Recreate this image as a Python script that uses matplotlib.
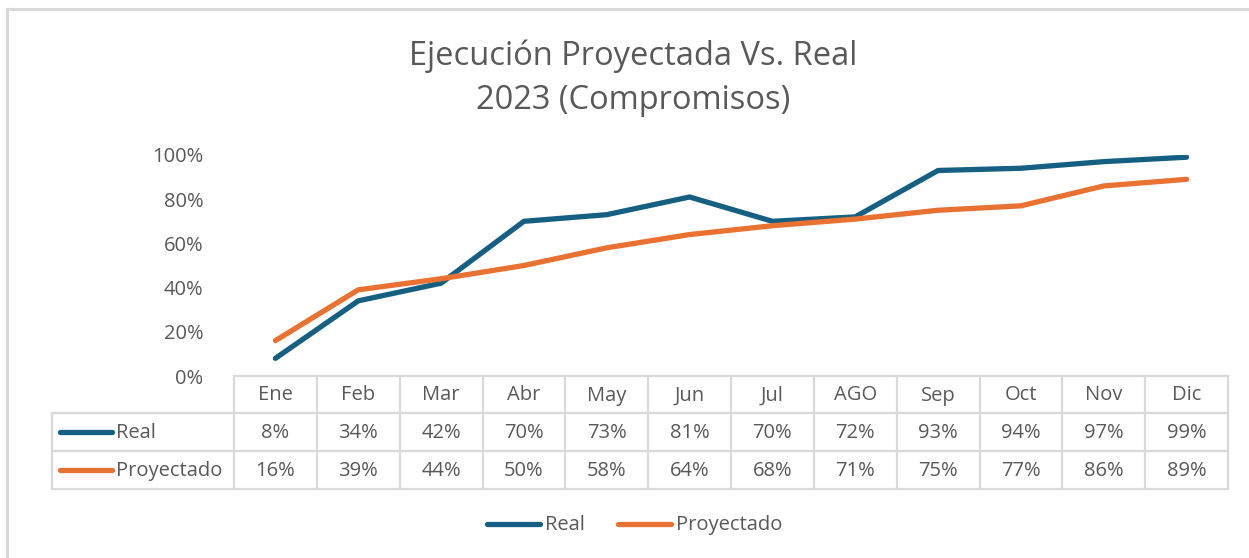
import matplotlib
matplotlib.use("Agg")
import matplotlib.pyplot as plt
from matplotlib.lines import Line2D

plt.rcParams['font.family'] = ['Open Sans', 'DejaVu Sans']

months = ["Ene", "Feb", "Mar", "Abr", "May", "Jun", "Jul", "AGO", "Sep", "Oct", "Nov", "Dic"]
real = [8, 34, 42, 70, 73, 81, 70, 72, 93, 94, 97, 99]
proyectado = [16, 39, 44, 50, 58, 64, 68, 71, 75, 77, 86, 89]
series_names = ["Real", "Proyectado"]
colors = ["#156082", "#E97132"]
title = "Ejecución Proyectada Vs. Real\n2023 (Compromisos)"
yticks = [0, 20, 40, 60, 80, 100]

W, H = 1249, 558
fig = plt.figure(figsize=(W / 100, H / 100), dpi=100)
fig.patch.set_facecolor("white")

def fx(x):
    return x / W

def fy(y):
    return 1 - y / H

txt_color = "#595959"
grid_color = "#d9d9d9"

# outer border (top and left visible)
fig.add_artist(Line2D([fx(7), fx(W)], [fy(9), fy(9)], color="#d9d9d9", lw=2.2))
fig.add_artist(Line2D([fx(7), fx(7)], [fy(9), fy(H)], color="#d9d9d9", lw=2.2))

x0, x1 = 234, 1228
ytop, ybot = 155, 376
ax = fig.add_axes([fx(x0), fy(ybot), fx(x1 - x0), fy(ytop) - fy(ybot)])
n = len(months)
xs = list(range(n))
ax.plot(xs, [v / 100 for v in real], color=colors[0], lw=3.8, solid_capstyle="round", solid_joinstyle="round")
ax.plot(xs, [v / 100 for v in proyectado], color=colors[1], lw=3.8, solid_capstyle="round", solid_joinstyle="round")
ax.set_xlim(-0.5, n - 0.5)
ax.set_ylim(0, 1)
ax.set_yticks([t / 100 for t in yticks])
ax.set_yticklabels([f"{t}%" for t in yticks], color=txt_color, fontsize=14.5)
ax.tick_params(axis="y", length=0, pad=22)
ax.set_xticks([])
for s in ax.spines.values():
    s.set_visible(False)
ax.patch.set_alpha(0)

fig.text(0.507, fy(78), title, ha="center", va="center", fontsize=23.5, color=txt_color, linespacing=1.45)

# data table
cw = (x1 - x0) / n
r0, r1, r2, r3 = 376, 413, 451, 489
lx = 52
lwb = 1.6
# horizontal lines
fig.add_artist(Line2D([fx(x0), fx(x1)], [fy(r0)] * 2, color=grid_color, lw=lwb))
for r in (r1, r2, r3):
    fig.add_artist(Line2D([fx(lx), fx(x1)], [fy(r)] * 2, color=grid_color, lw=lwb))
# vertical lines
fig.add_artist(Line2D([fx(lx)] * 2, [fy(r1), fy(r3)], color=grid_color, lw=lwb))
for i in range(n + 1):
    xv = x0 + i * cw
    fig.add_artist(Line2D([fx(xv)] * 2, [fy(r0), fy(r3)], color=grid_color, lw=lwb))

fs = 14.5
for i, m in enumerate(months):
    cx = x0 + (i + 0.5) * cw
    fig.text(fx(cx), fy((r0 + r1) / 2 + 1), m, ha="center", va="center", fontsize=fs, color=txt_color)
    fig.text(fx(cx), fy((r1 + r2) / 2 + 1), f"{real[i]}%", ha="center", va="center", fontsize=fs, color=txt_color)
    fig.text(fx(cx), fy((r2 + r3) / 2 + 1), f"{proyectado[i]}%", ha="center", va="center", fontsize=fs, color=txt_color)

for k, (nm, c) in enumerate(zip(series_names, colors)):
    yc = (r1 + r2) / 2 if k == 0 else (r2 + r3) / 2
    fig.add_artist(Line2D([fx(60), fx(112)], [fy(yc)] * 2, color=c, lw=3.8, solid_capstyle="round"))
    fig.text(fx(116), fy(yc + 1), nm, ha="left", va="center", fontsize=fs, color=txt_color)

# legend
ly = 524
fig.add_artist(Line2D([fx(487), fx(540)], [fy(ly)] * 2, color=colors[0], lw=3.8, solid_capstyle="round"))
fig.text(fx(545), fy(ly + 1), series_names[0], ha="left", va="center", fontsize=fs, color=txt_color)
fig.add_artist(Line2D([fx(618), fx(671)], [fy(ly)] * 2, color=colors[1], lw=3.8, solid_capstyle="round"))
fig.text(fx(676), fy(ly + 1), series_names[1], ha="left", va="center", fontsize=fs, color=txt_color)

fig.savefig("out.png", dpi=100, facecolor="white")
